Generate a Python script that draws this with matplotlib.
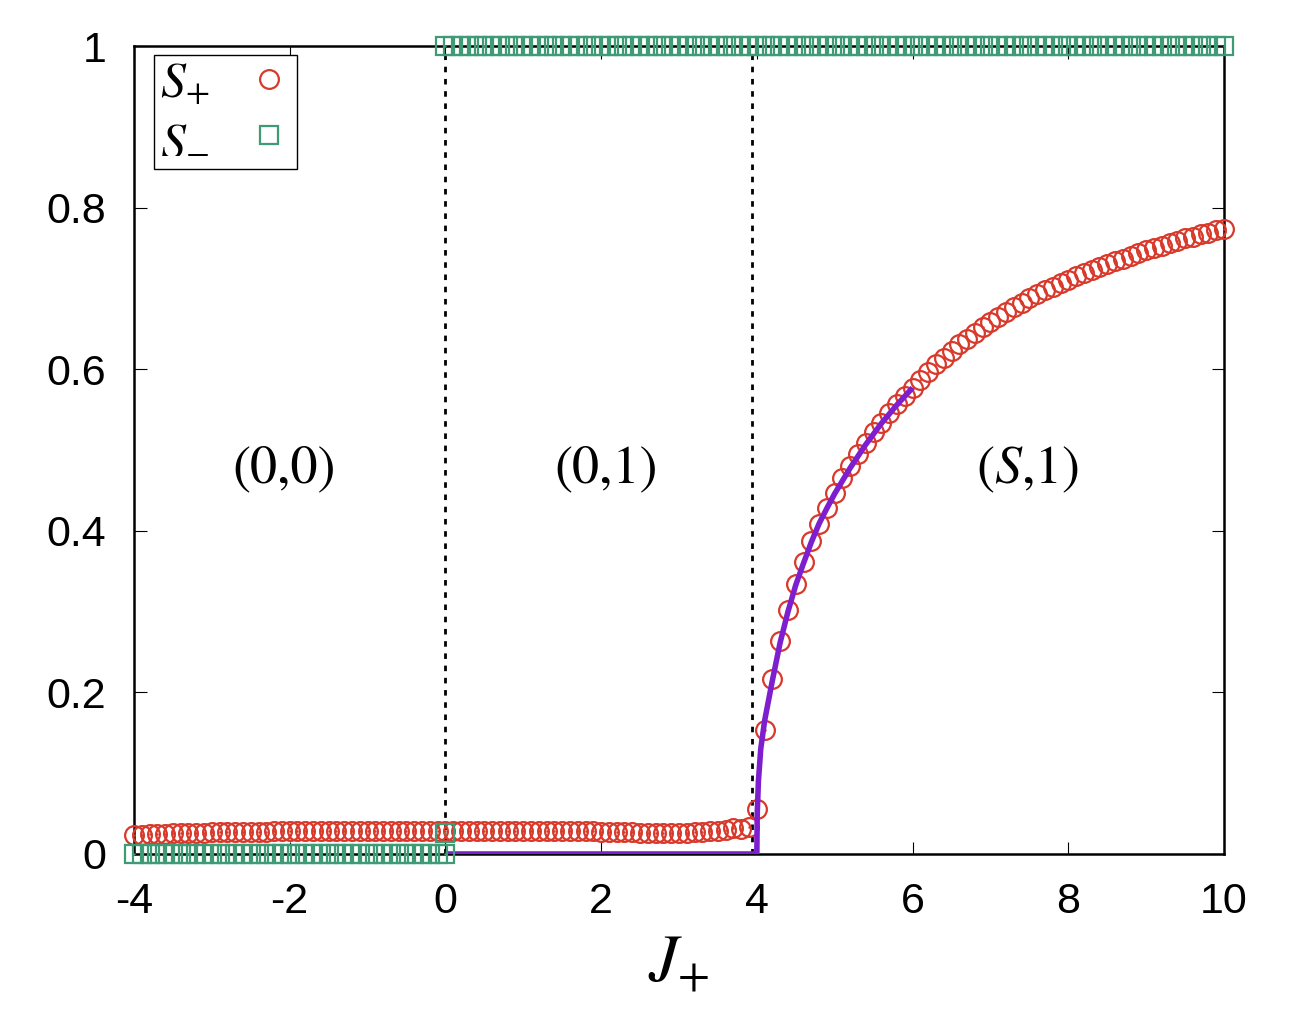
import numpy as np
import matplotlib.pyplot as plt

plt.rcParams['mathtext.fontset'] = 'stix'
plt.rcParams['font.family'] = ['Liberation Sans', 'DejaVu Sans']
plt.rcParams['axes.unicode_minus'] = False

# S+ values on the grid J+ = -4.0, -3.9, ..., 10.0
j_grid = np.round(np.linspace(-4, 10, 141), 2)
s_plus = [
    0.024, 0.024, 0.025, 0.025, 0.025, 0.026, 0.026, 0.026, 0.026, 0.026,
    0.027, 0.027, 0.027, 0.027, 0.027, 0.027, 0.027, 0.027, 0.028, 0.028,
    0.028, 0.028, 0.028, 0.028, 0.028, 0.028, 0.028, 0.029, 0.029, 0.029,
    0.029, 0.029, 0.029, 0.029, 0.029, 0.029, 0.029, 0.029, 0.029, 0.029,
    0.029, 0.029, 0.029, 0.029, 0.029, 0.029, 0.029, 0.028, 0.028, 0.028,
    0.028, 0.028, 0.028, 0.028, 0.028, 0.028, 0.028, 0.028, 0.028, 0.028,
    0.027, 0.027, 0.027, 0.027, 0.027, 0.026, 0.026, 0.026, 0.026, 0.026,
    0.026, 0.026, 0.027, 0.027, 0.028, 0.029, 0.030, 0.032, 0.031, 0.033,
    0.056, 0.153, 0.217, 0.264, 0.302, 0.334, 0.361, 0.387, 0.409, 0.428,
    0.447, 0.465, 0.480, 0.495, 0.509, 0.522, 0.534, 0.546, 0.557, 0.567,
    0.577, 0.587, 0.597, 0.606, 0.614, 0.623, 0.631, 0.638, 0.645, 0.652,
    0.659, 0.665, 0.671, 0.677, 0.682, 0.688, 0.693, 0.698, 0.702, 0.707,
    0.711, 0.715, 0.719, 0.723, 0.727, 0.730, 0.734, 0.737, 0.740, 0.744,
    0.747, 0.750, 0.753, 0.756, 0.759, 0.762, 0.764, 0.767, 0.769, 0.772,
    0.774,
]

# S- values
s_minus_lo_x = j_grid[:41]
s_minus_lo = [0.0] * 41
s_minus_hi_x = j_grid[40:]
s_minus_hi = [1.0] * 101
s_minus_extra_x = [0.0]
s_minus_extra = [0.026]

# fitted curve (purple)
fit_x = [0.0, 4.0, 4.0, 4.005, 4.02, 4.05, 4.1, 4.2, 4.3, 4.4, 4.5, 4.6, 4.7,
         4.8, 4.9, 5.0, 5.2, 5.4, 5.6, 5.8, 6.0]
fit_y = [0.0, 0.0, 0.0, 0.05, 0.09, 0.13, 0.165, 0.215, 0.262, 0.300, 0.333,
         0.360, 0.386, 0.409, 0.428, 0.446, 0.478, 0.507, 0.533, 0.556, 0.577]

# phase boundaries and labels
boundaries = [0.0, 3.94]
phase_x = [-2.07, 2.07, 7.47]
phase_labels = ['(0,0)', '(0,1)', r'($\mathit{S}$,1)']

red = '#d8392b'
green = '#3f9b76'
purple = '#7e1fcf'

fig = plt.figure(figsize=(13.08, 10.14), dpi=100)
ax = fig.add_axes([0.1024, 0.1578, 0.8334, 0.7968])

for b in boundaries:
    ax.plot([b, b], [0, 1], color='black', lw=2, linestyle=(0, (2, 2.4)), zorder=2)

ax.plot(fit_x, fit_y, color=purple, lw=4, zorder=4, solid_capstyle='butt')

ax.plot(j_grid, s_plus, 'o', mfc='none', mec=red, mew=1.6, ms=13.5,
        clip_on=False, zorder=3, label=r'$S_{+}$')
ax.plot(j_grid, s_plus, '.', color=red, ms=1.5, clip_on=False, zorder=3)

sq_x = list(s_minus_lo_x) + s_minus_extra_x + list(s_minus_hi_x)
sq_y = s_minus_lo + s_minus_extra + s_minus_hi
ax.plot(sq_x, sq_y, 's', mfc='none', mec=green, mew=1.6, ms=12.5,
        clip_on=False, zorder=5, label=r'$S_{-}$')
ax.plot(sq_x, sq_y, '.', color=green, ms=1.5, clip_on=False, zorder=5)

for x, t in zip(phase_x, phase_labels):
    ax.text(x, 0.475, t, ha='center', va='center', fontsize=39,
            family='STIXGeneral')

ax.set_xlim(-4, 10)
ax.set_ylim(0, 1)
ax.set_xticks([-4, -2, 0, 2, 4, 6, 8, 10])
ax.set_yticks([0, 0.2, 0.4, 0.6, 0.8, 1])
ax.set_yticklabels(['0', '0.2', '0.4', '0.6', '0.8', '1'])
ax.tick_params(direction='in', length=9, width=0.8, top=True, right=True,
               labelsize=31)
ax.tick_params(axis='x', pad=20)
ax.tick_params(axis='y', pad=20)
for sp in ax.spines.values():
    sp.set_linewidth(1.8)

ax.set_xlabel(r'$J_{+}$', fontsize=48, labelpad=8)

leg = ax.legend(loc='upper left', bbox_to_anchor=(0.018, 0.989),
                borderaxespad=0, markerfirst=False, fancybox=False,
                fontsize=36, handlelength=0.9, handletextpad=0.75,
                labelspacing=0.2, borderpad=0.12, framealpha=1)
leg.get_frame().set_edgecolor('black')
leg.get_frame().set_linewidth(1.0)

fig.savefig('out.png', dpi=100)
